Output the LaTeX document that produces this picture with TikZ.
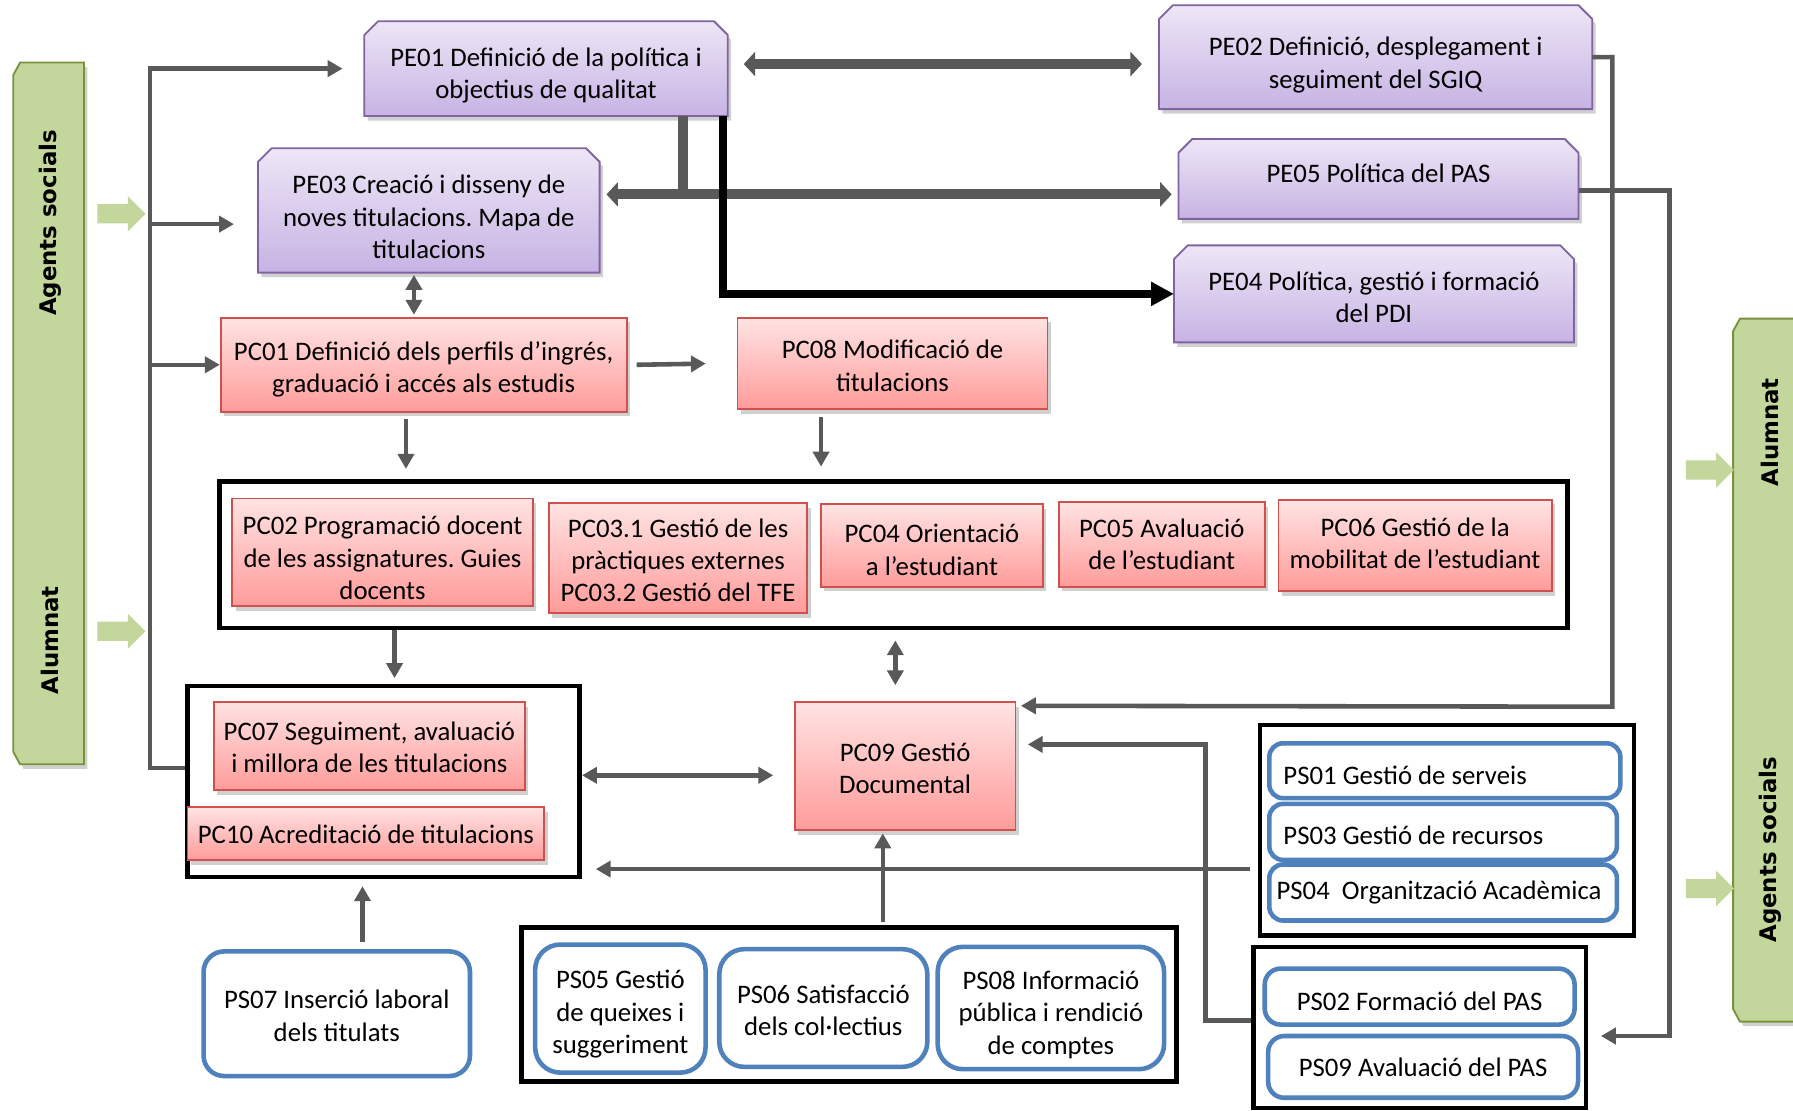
\documentclass[tikz,border=0pt]{standalone}
\usepackage{fontspec}
\setmainfont{Carlito}
\newfontfamily\dvs{DejaVu Sans}
\usetikzlibrary{shapes.misc,shapes.arrows,arrows.meta,shadows,calc}
\frenchspacing

\definecolor{conngray}{HTML}{595959}
\definecolor{pefillA}{HTML}{EDE6F6}
\definecolor{pefillB}{HTML}{C7B3E4}
\definecolor{peborder}{HTML}{8064A2}
\definecolor{pcfillA}{HTML}{FFE3E3}
\definecolor{pcfillB}{HTML}{FF9C9A}
\definecolor{pcborder}{HTML}{D0504D}
\definecolor{psborder}{HTML}{4F81BD}
\definecolor{agreen}{HTML}{C3D69B}
\definecolor{agreenborder}{HTML}{77933C}

% box only: name, style, x1, y1, x2, y2
\newcommand\mkshape[6]{\node[#2, minimum width={(#5-#3)*0.5pt}, minimum height={(#6-#4)*0.5pt}] (#1) at ({(#3+#5)/2},{(#4+#6)/2}) {};}
% box plus centred text: [text yshift] name, style, x1, y1, x2, y2, text
\newcommand\mkbox[8][0pt]{\mkshape{#2}{#3}{#4}{#5}{#6}{#7}\node[boxtext] (#2t) at ([yshift=#1]#2.center) {#8};}
% purple box with chamfered top corners: [text yshift] name, x1, y1, x2, y2, text
\newcommand\mkpe[7][0pt]{\mkshape{#2}{frame}{#3}{#4}{#5}{#6}%
  \path[pestyle] (#2.south west) -- ([yshift=-6pt]#2.north west) -- ([xshift=6pt]#2.north west)
    -- ([xshift=-6pt]#2.north east) -- ([yshift=-6pt]#2.north east) -- (#2.south east) -- cycle;
  \node[boxtext] (#2t) at ([yshift=#1]#2.center) {#7};}
% green side bar with chamfered left corners: name, x1, y1, x2, y2
\newcommand\mkbar[5]{\mkshape{#1}{frame}{#2}{#3}{#4}{#5}%
  \path[greenbar] ([xshift=3pt]#1.south west) -- ([yshift=5.5pt]#1.south west) -- ([yshift=-5.5pt]#1.north west)
    -- ([xshift=3pt]#1.north west) -- (#1.north east) -- (#1.south east) -- cycle;}

\tikzset{
  frame/.style={rectangle, inner sep=0pt},
  boxtext/.style={align=center, inner sep=0pt},
  boxshadow/.style={drop shadow={shadow xshift=1.5pt, shadow yshift=-2pt, opacity=0.3, fill=black!60}},
  pestyle/.style={draw=peborder, line width=0.8pt, top color=pefillA, bottom color=pefillB, boxshadow},
  pcstyle/.style={rectangle, draw=pcborder, line width=0.8pt,
    top color=pcfillA, bottom color=pcfillB, boxshadow, inner sep=0pt},
  psstyle/.style={rectangle, rounded corners=9pt, draw=psborder, line width=2pt, fill=white, inner sep=0pt},
  cont/.style={rectangle, draw=black, line width=2pt, inner sep=0pt},
  greenbar/.style={fill=agreen, draw=agreenborder, line width=0.8pt, boxshadow},
  barlabel/.style={rotate=90, font=\dvs\bfseries\fontsize{10}{12}\selectfont},
  garrow/.style={single arrow, fill=agreen, draw=none, minimum height=21pt, inner ysep=4pt,
    inner xsep=0pt, single arrow head extend=3.5pt, single arrow head indent=0pt},
  conn/.style={draw=conngray, line width=2pt, >={Triangle[length=6.5pt,width=7pt]}},
  thickc/.style={draw=conngray, line width=4.3pt, >={Triangle[length=5pt,width=10.5pt]}},
  blackc/.style={draw=black, line width=3.2pt, >={Triangle[length=10pt,width=10pt]}},
}

\begin{document}
\begin{tikzpicture}[x=0.5pt,y=-0.5pt, font=\fontsize{11.7}{14.2}\selectfont\frenchspacing]
\useasboundingbox (0,0) rectangle (1568,971);
\fill[white] (0,0) rectangle (1568,971);

% side bars
\mkbar{barL}{12}{55}{73}{668}
\mkbar{barR}{1516}{279}{1600}{893}
\node[barlabel] (tAgL) at (44,195) {Agents socials};
\node[barlabel] (tAlL) at (44,560) {Alumnat};
\node[barlabel] (tAlR) at (1548,378) {Alumnat};
\node[barlabel] (tAgR) at (1548,743) {Agents socials};
\node[garrow] (ga1) at (102,187) {};
\node[garrow] (ga2) at (102,552) {};
\node[garrow] (ga3) at (1491,411) {};
\node[garrow] (ga4) at (1491,777) {};

% containers
\mkshape{c1}{cont}{192}{421}{1371}{549}
\mkshape{c2}{cont}{164}{600}{507}{767}
\mkshape{c3}{cont}{456}{811}{1029}{946}
\mkshape{c4}{cont}{1102}{634}{1429}{818}
\mkshape{c5}{cont}{1096}{828}{1387}{969}

% PE
\mkpe[-3pt]{pe01}{319}{19}{636}{101}{PE01 Definició de la política i\\objectius de qualitat}
\mkpe[-3.5pt]{pe02}{1014}{5}{1392}{95}{PE02 Definició, desplegament i\\seguiment del SGIQ}
\mkpe[-3pt]{pe03}{226}{130}{524}{238}{PE03 Creació i disseny de\\noves titulacions. Mapa de\\titulacions}
\mkpe[2.5pt]{pe05}{1031}{122}{1380}{191}{PE05 Política del PAS}
\mkpe[-1.5pt]{pe04}{1027}{215}{1376}{299}{PE04 Política, gestió i formació\\del PDI}

% PC
\mkbox[-2pt]{pc01}{pcstyle}{193}{278}{548}{360}{PC01 Definició dels perfils d’ingrés,\\graduació i accés als estudis}
\mkbox[-1pt]{pc08}{pcstyle}{645}{278}{916}{358}{PC08 Modificació de\\titulacions}
\mkbox[-2.5pt]{pc02}{pcstyle}{203}{436}{466}{530}{PC02 Programació docent\\de les assignatures. Guies\\docents}
\mkbox[-1pt]{pc03}{pcstyle}{480}{440}{706}{536}{PC03.1 Gestió de les\\pràctiques externes\\PC03.2 Gestió del TFE}
\mkbox[-2pt]{pc04}{pcstyle}{718}{441}{912}{513}{PC04 Orientació\\a l’estudiant}
\mkbox[0pt]{pc05}{pcstyle}{926}{439}{1106}{513}{PC05 Avaluació\\de l’estudiant}
\mkbox[1pt]{pc06}{pcstyle}{1118}{437}{1357}{517}{PC06 Gestió de la\\mobilitat de l’estudiant}
\mkbox[-0.5pt]{pc07}{pcstyle}{187}{614}{459}{691}{PC07 Seguiment, avaluació\\i millora de les titulacions}
\mkbox[-0.5pt]{pc10}{pcstyle}{164}{706}{476}{752}{PC10 Acreditació de titulacions}
\mkbox[-1pt]{pc09}{pcstyle}{695}{614}{888}{726}{PC09 Gestió\\Documental}

% PS
\mkbox[-1pt]{ps07}{psstyle}{178}{832}{411}{941}{PS07 Inserció laboral\\dels titulats}
\mkbox[-2.5pt]{ps05}{psstyle, rounded corners=11pt}{468}{826}{617}{938}{PS05 Gestió\\de queixes i\\suggeriment}
\mkbox[-1pt]{ps06}{psstyle, rounded corners=11pt}{629}{830}{811}{933}{PS06 Satisfacció\\dels col·lectius}
\mkbox[-3pt]{ps08}{psstyle, rounded corners=11pt}{820}{828}{1018}{935}{PS08 Informació\\pública i rendició\\de comptes}
\mkshape{ps01}{psstyle, rounded corners=6pt}{1110}{650}{1417}{698}
\node[boxtext, anchor=west] (ps01t) at ([xshift=7pt,yshift=-2pt]ps01.west) {PS01 Gestió de serveis};
\mkshape{ps03}{psstyle, rounded corners=6pt}{1110}{703}{1414}{752}
\node[boxtext, anchor=west] (ps03t) at ([xshift=7pt,yshift=-1.5pt]ps03.west) {PS03 Gestió de recursos};
\mkshape{ps04}{psstyle, rounded corners=6pt}{1110}{756}{1414}{805}
\node[boxtext, anchor=west] (ps04t) at ([xshift=4pt]ps04.west) {PS04\ \ Organització Acadèmica};
\mkbox[-2pt]{ps02}{psstyle, rounded corners=7pt}{1106}{847}{1377}{896}{PS02 Formació del PAS}
\mkbox[0pt]{ps09}{psstyle, rounded corners=7pt}{1109}{906}{1380}{960}{PS09 Avaluació del PAS}

% connectors
\coordinate (L) at (131,0);
\coordinate (a3) at ([xshift=-10.5pt,yshift=-6pt]pe03.west);
\draw[conn,->] ([yshift=6pt]c2.west) -| (L |- pe01.west) -- ([xshift=-9.5pt]pe01.west);
\draw[conn,->] (L |- a3) -- (a3);
\draw[conn,->] (L |- pc01.west) -- (pc01.west);

\coordinate (p12) at ([xshift=7pt,yshift=2pt]pe01.east);
\draw[thickc,<->, shorten >=7.5pt] (p12) -- (p12 -| pe02.west);

\coordinate (T) at (597,170);
\draw[thickc] (pe01.south -| T) -- (T);
\draw[thickc,<->, shorten <=3pt, shorten >=3pt] (T -| pe03.east) -- (T -| pe05.west);

\draw[blackc,->] ([xshift=-2pt]pe01.south east) |- (pe04.west);

\draw[conn,<->, shorten <=1pt, shorten >=1pt] ([xshift=-6.5pt]pe03.south) -- ([xshift=-6.5pt]pe03.south |- pc01.north);
\draw[conn,->] ([xshift=4pt]pc01.east) -- ([xshift=-13.5pt]pc08.west);
\draw[conn,->, shorten >=4.5pt] ([xshift=-7.75pt,yshift=-3pt]pc01.south) -- ([xshift=-7.75pt]pc01.south |- c1.north);
\draw[conn,->, shorten >=5.5pt] ([xshift=-31.25pt,yshift=-3pt]pc08.south) -- ([xshift=-31.25pt]pc08.south |- c1.north);
\draw[conn,->, shorten >=2.5pt] ([xshift=4.75pt]c2.north |- c1.south) -- ([xshift=4.75pt]c2.north);
\draw[conn,<->, shorten <=4.5pt, shorten >=7pt] ([xshift=-4.25pt]pc09.north |- c1.south) -- ([xshift=-4.25pt]pc09.north);
\draw[conn,<->, shorten >=9pt] ([yshift=2.75pt]c2.east) -- ([yshift=2.75pt]c2.east -| pc09.west);

\coordinate (R1) at (1410,618);
\draw[conn,->] (pe02.east) -| (R1) -- ([xshift=2pt,yshift=-2pt]pc09.north east);
\coordinate (R2) at (1460,906);
\draw[conn,->] ([yshift=-5pt]pe05.east) -| (R2) -- ([xshift=5.5pt]c5.east |- R2);
\coordinate (R3) at (1054,651);
\draw[conn,->] ([yshift=3pt]c5.west) -| (R3) -- ([xshift=5pt]pc09.east |- R3);
\coordinate (R4) at ([xshift=-3.5pt,yshift=-17pt]c4.west);
\draw[conn,->, shorten >=6pt] (R4) -- (c2.east |- R4);
\draw[conn,->, shorten >=1pt] ([xshift=14.75pt,yshift=1.5pt]c3.north) -- ([xshift=14.75pt]c3.north |- pc09.south);
\draw[conn,->, shorten >=3pt] ([xshift=11.25pt,yshift=3pt]ps07.north) -- ([xshift=11.25pt]ps07.north |- c2.south);
\end{tikzpicture}
\end{document}
